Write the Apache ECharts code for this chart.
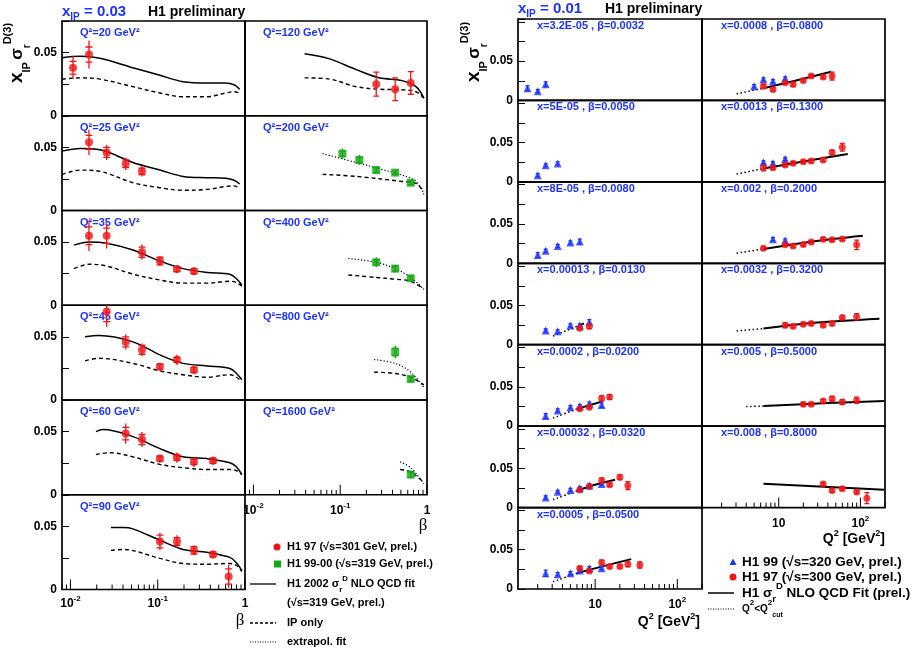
<!DOCTYPE html>
<html>
<head>
<meta charset="utf-8">
<title>H1 diffractive reduced cross section</title>
<script src="https://cdn.jsdelivr.net/npm/echarts@6.0.0/dist/echarts.min.js"></script>
<style>
html,body{margin:0;padding:0;background:#fff;}
#chart{width:913px;height:653px;}
</style>
</head>
<body>
<div id="chart"></div>
<script>
const FONT = '"Liberation Sans", Arial, Helvetica, sans-serif';
const SERIF = '"Liberation Serif", "Times New Roman", serif';
const C_BLUE = '#1e32ff';
const C_RED = '#f01414';
const C_GREEN = '#12a812';

// ---------- tick labels ----------
const yTickValues = [0, 0.05];
const yTickLabels = ['0', '0.05'];
const betaLabelExps = [-2, -1, 0];
const q2LabelExps = [1, 2];

// ---------- LEFT FIGURE: x_IP = 0.03, versus beta ----------
const leftQ2Col1 = ['20', '25', '35', '45', '60', '90'];
const leftQ2Col2 = ['120', '200', '400', '800', '1600'];

// H1 97 points: [beta, value, total error, stat error]
const h97_Q20 = [[0.0107,0.038,0.009,0.005],[0.0163,0.0484,0.011,0.006]];
const h97_Q25 = [[0.0163,0.054,0.010,0.0055],[0.026,0.046,0.006,0.004],[0.043,0.037,0.005,0.003],[0.066,0.031,0.004,0.0025]];
const h97_Q35 = [[0.0163,0.055,0.012,0.007],[0.026,0.055,0.010,0.006],[0.066,0.042,0.006,0.004],[0.106,0.035,0.004,0.003],[0.166,0.0286,0.003,0.002],[0.26,0.027,0.003,0.002]];
const h97_Q45 = [[0.026,0.070,0.012,0.008],[0.043,0.046,0.006,0.004],[0.066,0.0397,0.005,0.0035],[0.106,0.0263,0.003,0.002],[0.166,0.0318,0.004,0.002],[0.26,0.0238,0.003,0.002]];
const h97_Q60 = [[0.043,0.0484,0.008,0.005],[0.066,0.0437,0.006,0.004],[0.106,0.0286,0.003,0.002],[0.166,0.0294,0.004,0.002],[0.26,0.026,0.004,0.002],[0.43,0.027,0.003,0.002]];
const h97_Q90 = [[0.106,0.038,0.007,0.005],[0.166,0.038,0.005,0.003],[0.26,0.031,0.004,0.003],[0.43,0.0278,0.003,0.002],[0.65,0.0103,0.009,0.006]];
const h97_Q120 = [[0.26,0.025,0.0095,0.0095],[0.43,0.021,0.009,0.009],[0.65,0.026,0.009,0.009]];
// H1 99-00 points
const h99_Q200 = [[0.106,0.045,0.004,0.002],[0.166,0.040,0.004,0.002],[0.26,0.032,0.003,0.002],[0.43,0.030,0.002,0.0015],[0.65,0.022,0.002,0.0015]];
const h99_Q400 = [[0.26,0.034,0.004,0.002],[0.43,0.029,0.003,0.002],[0.65,0.0214,0.002,0.0015]];
const h99_Q800 = [[0.43,0.038,0.005,0.003],[0.65,0.0167,0.002,0.0015]];
const h99_Q1600 = [[0.65,0.016,0.003,0.002]];

// NLO QCD fit (solid), IP only (dashed), extrapolated fit (dotted): [beta, value]
const fit_Q20 = [[0.008,0.046],[0.0129,0.047],[0.0218,0.0455],[0.052,0.038],[0.106,0.032],[0.195,0.027],[0.366,0.026],[0.6,0.026],[0.75,0.0245],[0.87,0.021]];
const ip_Q20  = [[0.008,0.029],[0.0129,0.030],[0.0218,0.029],[0.052,0.023],[0.106,0.018],[0.195,0.015],[0.366,0.015],[0.6,0.018],[0.75,0.019],[0.87,0.018]];
const fit_Q25 = [[0.008,0.047],[0.0129,0.049],[0.0218,0.048],[0.052,0.038],[0.106,0.032],[0.195,0.027],[0.366,0.026],[0.6,0.0255],[0.75,0.024],[0.87,0.021]];
const ip_Q25  = [[0.008,0.0286],[0.0129,0.032],[0.0218,0.031],[0.052,0.022],[0.106,0.018],[0.195,0.016],[0.366,0.0167],[0.6,0.019],[0.75,0.0195],[0.87,0.0175]];
const fit_Q35 = [[0.011,0.0476],[0.0165,0.050],[0.026,0.049],[0.052,0.0437],[0.106,0.035],[0.195,0.029],[0.366,0.026],[0.67,0.0246],[0.8,0.021],[0.92,0.016]];
const ip_Q35  = [[0.011,0.029],[0.0165,0.0325],[0.026,0.031],[0.052,0.0246],[0.106,0.020],[0.195,0.0175],[0.366,0.0175],[0.67,0.019],[0.8,0.018],[0.92,0.015]];
const fit_Q45 = [[0.0147,0.050],[0.0213,0.051],[0.052,0.046],[0.106,0.0357],[0.195,0.029],[0.366,0.027],[0.67,0.025],[0.8,0.021],[0.92,0.016]];
const ip_Q45  = [[0.0147,0.031],[0.0213,0.033],[0.052,0.029],[0.106,0.023],[0.195,0.020],[0.366,0.018],[0.67,0.020],[0.8,0.018],[0.92,0.0143]];
const fit_Q60 = [[0.0196,0.050],[0.0236,0.0516],[0.052,0.046],[0.106,0.0365],[0.195,0.030],[0.366,0.0286],[0.67,0.0254],[0.8,0.022],[0.92,0.016]];
const ip_Q60  = [[0.0196,0.0318],[0.0284,0.0333],[0.052,0.030],[0.106,0.024],[0.195,0.0214],[0.366,0.020],[0.67,0.020],[0.8,0.019],[0.92,0.016]];
const fit_Q90 = [[0.0291,0.049],[0.040,0.049],[0.052,0.048],[0.106,0.039],[0.195,0.0317],[0.366,0.0294],[0.67,0.0254],[0.8,0.021],[0.92,0.015]];
const ip_Q90  = [[0.0291,0.031],[0.040,0.0317],[0.106,0.0246],[0.195,0.0206],[0.366,0.020],[0.67,0.0206],[0.8,0.019],[0.92,0.0143]];
const fit_Q120 = [[0.0389,0.049],[0.0754,0.045],[0.153,0.0365],[0.281,0.030],[0.516,0.0278],[0.746,0.023],[0.92,0.014]];
const ip_Q120  = [[0.0389,0.030],[0.0754,0.029],[0.153,0.023],[0.281,0.021],[0.516,0.0206],[0.746,0.019],[0.92,0.014]];
const ext_Q200 = [[0.0625,0.045],[0.153,0.038],[0.281,0.033],[0.516,0.028],[0.746,0.023],[0.92,0.0127]];
const ip_Q200  = [[0.0625,0.0286],[0.153,0.027],[0.516,0.023],[0.746,0.0214],[0.92,0.015]];
const ext_Q400 = [[0.124,0.037],[0.26,0.034],[0.43,0.029],[0.65,0.022],[0.92,0.0127]];
const ip_Q400  = [[0.124,0.024],[0.26,0.022],[0.43,0.0206],[0.65,0.019],[0.92,0.0127]];
const ext_Q800 = [[0.246,0.032],[0.43,0.029],[0.65,0.022],[0.92,0.010]];
const ip_Q800  = [[0.246,0.022],[0.43,0.021],[0.65,0.018],[0.92,0.012]];
const ext_Q1600 = [[0.49,0.026],[0.65,0.0214],[0.92,0.0087]];
const ip_Q1600  = [[0.49,0.020],[0.65,0.018],[0.92,0.0095]];

// ---------- RIGHT FIGURE: x_IP = 0.01, versus Q^2 ----------
const rightX = ['3.2E-05','5E-05','8E-05','0.00013','0.0002','0.00032','0.0005','0.0008','0.0013','0.002','0.0032','0.005','0.008'];
const rightBeta = ['0.0032','0.0050','0.0080','0.0130','0.0200','0.0320','0.0500','0.0800','0.1300','0.2000','0.3200','0.5000','0.8000'];

// H1 99 triangles / H1 97 circles: [Q2, value, error]
const t_b0032 = [[1.5,0.0156,0.003],[2,0.0118,0.002],[2.5,0.0207,0.003]];
const t_b0050 = [[2,0.0085,0.002],[2.5,0.021,0.002],[3.5,0.0234,0.002]];
const t_b0080 = [[2,0.0106,0.003],[2.5,0.016,0.002],[3.5,0.022,0.002],[5,0.0264,0.002],[6.5,0.0277,0.003]];
const t_b0130 = [[2.5,0.018,0.002],[3.5,0.017,0.002],[5,0.0245,0.002],[6.5,0.0245,0.002],[8.5,0.029,0.003]];
const c_b0130 = [[6.5,0.021,0.002],[8.5,0.0236,0.003]];
const t_b0200 = [[2.5,0.0128,0.003],[3.5,0.020,0.002],[5,0.024,0.002],[6.5,0.0255,0.002],[8.5,0.0285,0.002],[12,0.027,0.003]];
const c_b0200 = [[6.5,0.022,0.002],[8.5,0.024,0.002],[12,0.0356,0.003],[15,0.037,0.003]];
const t_b0320 = [[2.5,0.0128,0.002],[3.5,0.020,0.002],[5,0.0225,0.002],[6.5,0.0247,0.002],[8.5,0.028,0.002],[12,0.030,0.002]];
const c_b0320 = [[6.5,0.0225,0.002],[8.5,0.0267,0.002],[12,0.0343,0.003],[15,0.029,0.002],[20,0.0385,0.003],[25,0.028,0.005]];
const t_b0500 = [[2.5,0.020,0.004],[3.5,0.0188,0.002],[5,0.020,0.002],[6.5,0.0235,0.002],[8.5,0.0265,0.002],[12,0.0265,0.002]];
const c_b0500 = [[6.5,0.0265,0.002],[8.5,0.023,0.002],[12,0.0337,0.003],[15,0.0286,0.002],[20,0.0286,0.002],[25,0.0315,0.003],[35,0.0306,0.004]];
const t_b0800 = [[5,0.018,0.002],[6.5,0.0267,0.002],[8.5,0.0245,0.002],[12,0.028,0.002]];
const c_b0800 = [[6.5,0.018,0.002],[8.5,0.014,0.002],[12,0.0225,0.002],[15,0.0204,0.002],[20,0.0255,0.002],[25,0.031,0.002],[35,0.0297,0.002],[45,0.031,0.005]];
const t_b1300 = [[6.5,0.0248,0.002],[8.5,0.0236,0.002],[12,0.029,0.002]];
const c_b1300 = [[6.5,0.018,0.004],[8.5,0.018,0.002],[12,0.0214,0.002],[15,0.0236,0.002],[20,0.0256,0.002],[25,0.0265,0.002],[35,0.0278,0.002],[45,0.0372,0.003],[60,0.044,0.005]];
const t_b2000 = [[8.5,0.0307,0.002],[12,0.029,0.002]];
const c_b2000 = [[6.5,0.019,0.002],[12,0.0235,0.002],[15,0.022,0.002],[20,0.024,0.002],[25,0.027,0.002],[35,0.0307,0.002],[45,0.030,0.002],[60,0.031,0.002],[90,0.0235,0.006]];
const c_b3200 = [[12,0.0248,0.003],[15,0.0235,0.002],[20,0.026,0.002],[25,0.027,0.002],[35,0.0248,0.002],[45,0.027,0.002],[60,0.0347,0.002],[90,0.0355,0.004]];
const c_b5000 = [[20,0.0278,0.002],[25,0.0278,0.002],[35,0.032,0.002],[45,0.035,0.003],[60,0.0307,0.003],[90,0.033,0.004]];
const c_b8000 = [[35,0.030,0.002],[45,0.0218,0.002],[60,0.024,0.002],[90,0.0197,0.002],[120,0.012,0.007]];

// fit lines: solid (Q2 > Q2cut) and dotted (Q2 < Q2cut): [Q2, value]
const fs_b0130 = [[6.2,0.024],[7.3,0.027]];
const fd_b0130 = [[3.07,0.011],[6.2,0.024]];
const fs_b0200 = [[6.0,0.022],[12.2,0.0314]];
const fd_b0200 = [[3.07,0.0102],[6.0,0.022]];
const fs_b0320 = [[6.0,0.0214],[10,0.029],[17.5,0.0355]];
const fd_b0320 = [[3.07,0.0099],[6.0,0.0214]];
const fs_b0500 = [[6.0,0.020],[12,0.0285],[27.5,0.038]];
const fd_b0500 = [[3.07,0.0094],[6.0,0.020]];
const fs_b0800 = [[6.5,0.0154],[15,0.0245],[44,0.0365]];
const fd_b0800 = [[3.05,0.0085],[6.5,0.0154]];
const fs_b1300 = [[6.5,0.017],[20,0.026],[70,0.0355]];
const fd_b1300 = [[3.05,0.0099],[6.5,0.017]];
const fs_b2000 = [[6.5,0.0183],[25,0.0275],[107,0.035]];
const fd_b2000 = [[3.05,0.0128],[6.5,0.0183]];
const fs_b3200 = [[6.5,0.0205],[25,0.0275],[171,0.033]];
const fd_b3200 = [[3.05,0.0175],[6.5,0.0205]];
const fs_b5000 = [[6.5,0.0255],[40,0.0295],[196,0.032]];
const fd_b5000 = [[4.0,0.025],[6.5,0.0255]];
const fs_b8000 = [[6.5,0.0304],[196,0.0227]];

// ---------- panel definitions ----------
const panels = [
  {fig:'L',col:0,row:0,label:leftQ2Col1[0],fit:fit_Q20,ip:ip_Q20,red:h97_Q20},
  {fig:'L',col:0,row:1,label:leftQ2Col1[1],fit:fit_Q25,ip:ip_Q25,red:h97_Q25},
  {fig:'L',col:0,row:2,label:leftQ2Col1[2],fit:fit_Q35,ip:ip_Q35,red:h97_Q35},
  {fig:'L',col:0,row:3,label:leftQ2Col1[3],fit:fit_Q45,ip:ip_Q45,red:h97_Q45},
  {fig:'L',col:0,row:4,label:leftQ2Col1[4],fit:fit_Q60,ip:ip_Q60,red:h97_Q60},
  {fig:'L',col:0,row:5,label:leftQ2Col1[5],fit:fit_Q90,ip:ip_Q90,red:h97_Q90,bottom:true},
  {fig:'L',col:1,row:0,label:leftQ2Col2[0],fit:fit_Q120,ip:ip_Q120,red:h97_Q120,caps:true},
  {fig:'L',col:1,row:1,label:leftQ2Col2[1],ext:ext_Q200,ip:ip_Q200,green:h99_Q200},
  {fig:'L',col:1,row:2,label:leftQ2Col2[2],ext:ext_Q400,ip:ip_Q400,green:h99_Q400},
  {fig:'L',col:1,row:3,label:leftQ2Col2[3],ext:ext_Q800,ip:ip_Q800,green:h99_Q800},
  {fig:'L',col:1,row:4,label:leftQ2Col2[4],ext:ext_Q1600,ip:ip_Q1600,green:h99_Q1600,bottom:true},
  {fig:'R',col:0,row:0,k:0,tri:t_b0032},
  {fig:'R',col:0,row:1,k:1,tri:t_b0050},
  {fig:'R',col:0,row:2,k:2,tri:t_b0080},
  {fig:'R',col:0,row:3,k:3,tri:t_b0130,circ:c_b0130,fs:fs_b0130,fd:fd_b0130},
  {fig:'R',col:0,row:4,k:4,tri:t_b0200,circ:c_b0200,fs:fs_b0200,fd:fd_b0200},
  {fig:'R',col:0,row:5,k:5,tri:t_b0320,circ:c_b0320,fs:fs_b0320,fd:fd_b0320},
  {fig:'R',col:0,row:6,k:6,tri:t_b0500,circ:c_b0500,fs:fs_b0500,fd:fd_b0500,bottom:true},
  {fig:'R',col:1,row:0,k:7,tri:t_b0800,circ:c_b0800,fs:fs_b0800,fd:fd_b0800},
  {fig:'R',col:1,row:1,k:8,tri:t_b1300,circ:c_b1300,fs:fs_b1300,fd:fd_b1300},
  {fig:'R',col:1,row:2,k:9,tri:t_b2000,circ:c_b2000,fs:fs_b2000,fd:fd_b2000},
  {fig:'R',col:1,row:3,k:10,circ:c_b3200,fs:fs_b3200,fd:fd_b3200},
  {fig:'R',col:1,row:4,k:11,circ:c_b5000,fs:fs_b5000,fd:fd_b5000},
  {fig:'R',col:1,row:5,k:12,circ:c_b8000,fs:fs_b8000,bottom:true}
];

const GEOM = {
  L: {top:21, h:94.75, lefts:[62,245], widths:[183,182], xmin:0.008, xmax:1, ymax:0.075, exps:betaLabelExps, decades:[-3,-2,-1,0]},
  R: {top:19, h:81.43, lefts:[518,702], widths:[184,183], xmin:1.15, xmax:200, ymax:0.1036, exps:q2LabelExps, decades:[0,1,2]}
};

const supRich = {
  b: {fontFamily:FONT, fontSize:12, fontWeight:'bold', color:'#000', lineHeight:18},
  s: {fontFamily:FONT, fontSize:8, fontWeight:'bold', color:'#000', verticalAlign:'top'}
};

function xLabelFormatter(exps) {
  return function (v) {
    const e = Math.log10(v);
    const re = Math.round(e);
    if (Math.abs(e - re) > 1e-6 || exps.indexOf(re) < 0) return '';
    if (re === 0) return '{b|1}';
    if (re === 1) return '{b|10}';
    return '{b|10}{s|' + re + '}';
  };
}
function yLabelFormatter(v) {
  for (let i = 0; i < yTickValues.length; i++) {
    if (Math.abs(v - yTickValues[i]) < 1e-9) return yTickLabels[i];
  }
  return '';
}

function errRender(color, capHalf) {
  return function (params, api) {
    const x = api.value(0), y = api.value(1), et = api.value(2), es = api.value(3);
    const t = api.coord([x, y + et]), b = api.coord([x, y - et]);
    const s1 = api.coord([x, y + es]), s2 = api.coord([x, y - es]);
    const st = {stroke: color, lineWidth: 1.3, fill: null};
    return {type:'group', children:[
      {type:'line', shape:{x1:t[0], y1:t[1], x2:b[0], y2:b[1]}, style:st},
      {type:'line', shape:{x1:s1[0]-capHalf, y1:s1[1], x2:s1[0]+capHalf, y2:s1[1]}, style:st},
      {type:'line', shape:{x1:s2[0]-capHalf, y1:s2[1], x2:s2[0]+capHalf, y2:s2[1]}, style:st}
    ]};
  };
}
function tickRender(params, api) {
  const v = api.value(0), major = api.value(2);
  const p = api.coord([v, 0]);
  const len = major ? 10 : 5;
  return {type:'line', shape:{x1:p[0], y1:p[1], x2:p[0], y2:p[1]-len}, style:{stroke:'#000', lineWidth:1}};
}

const option = {
  animation: false,
  backgroundColor: '#fff',
  textStyle: {fontFamily: FONT},
  grid: [], xAxis: [], yAxis: [], series: [], graphic: []
};

panels.forEach(function (p, i) {
  const g = GEOM[p.fig];
  const gx = g.lefts[p.col], gw = g.widths[p.col];
  const gy = g.top + p.row * g.h;
  option.grid.push({left:gx, top:gy, width:gw, height:g.h, show:true, borderColor:'#000', borderWidth:1.7,
    backgroundColor:'rgba(0,0,0,0)', containLabel:false, outerBoundsMode:'none'});
  option.xAxis.push({type:'log', logBase:10, gridIndex:i, min:g.xmin, max:g.xmax,
    axisLine:{show:false}, axisTick:{show:false}, splitLine:{show:false}, minorTick:{show:false},
    axisLabel:{show:!!p.bottom, formatter:xLabelFormatter(g.exps), rich:supRich, margin:(p.fig==='L' && p.row===5) ? 5 : 7, interval:0}
  });
  option.yAxis.push({type:'value', gridIndex:i, min:0, max:g.ymax, interval:0.025,
    axisLine:{show:false}, splitLine:{show:false},
    axisTick:{show:p.col===0, inside:true, length:7, lineStyle:{color:'#000', width:1}},
    axisLabel:{show:p.col===0, formatter:yLabelFormatter, fontFamily:FONT, fontWeight:'bold', fontSize:12, color:'#000', margin:5}
  });
  const ax = {xAxisIndex:i, yAxisIndex:i};
  function addLine(data, type, width) {
    option.series.push(Object.assign({type:'line', data:data, showSymbol:false, symbol:'none', smooth:0.35, silent:true, z:2,
      lineStyle:{color:'#000', width:width || 1.5, type:type}}, ax));
  }
  function addPoints(data4, color, symbol, size, capHalf) {
    option.series.push(Object.assign({type:'custom', data:data4, renderItem:errRender(color, capHalf), encode:{x:0, y:1}, clip:true, silent:true, z:3}, ax));
    option.series.push(Object.assign({type:'scatter', data:data4.map(function(d){return [d[0], d[1]];}), symbol:symbol, symbolSize:size,
      itemStyle:{color:color}, silent:true, z:4}, ax));
  }
  if (p.ip) addLine(p.ip, [4, 3], 1.4);
  if (p.fit) addLine(p.fit, 'solid', 1.5);
  if (p.ext) addLine(p.ext, [1.2, 2], 1.2);
  if (p.fd) addLine(p.fd, [1.5, 2.5], 1.5);
  if (p.fs) addLine(p.fs, 'solid', 2);
  if (p.red) addPoints(p.red, C_RED, 'circle', 8, p.caps ? 3 : 3.5);
  if (p.green) addPoints(p.green, C_GREEN, 'rect', 8, 3);
  if (p.tri) addPoints(p.tri.map(function(d){return [d[0], d[1], d[2], d[2]];}), C_BLUE, 'triangle', 8, 2);
  if (p.circ) addPoints(p.circ.map(function(d){return [d[0], d[1], d[2], d[2]];}), C_RED, 'circle', 7, 2.5);
  if (p.bottom) {
    const ticks = [];
    g.decades.forEach(function (k) {
      for (let m = 1; m <= 9; m++) {
        const v = m * Math.pow(10, k);
        if (v >= g.xmin * 0.9999 && v <= g.xmax * 1.0001) ticks.push([v, 0, m === 1 ? 1 : 0]);
      }
    });
    option.series.push(Object.assign({type:'custom', data:ticks, renderItem:tickRender, encode:{x:0, y:1}, clip:false, silent:true, z:5}, ax));
  }
  // panel label
  let txt;
  if (p.fig === 'L') {
    txt = {type:'text', x:gx + 18, y:gy + 12, style:{text:'Q²=' + p.label + ' GeV²', fill:C_BLUE, font:'bold 11px ' + FONT, verticalAlign:'middle'}};
  } else {
    txt = {type:'text', x:gx + 19, y:gy + 7, style:{text:'x=' + rightX[p.k] + ' , β=' + rightBeta[p.k], fill:C_BLUE, font:'bold 11px ' + FONT, verticalAlign:'middle'}};
  }
  option.graphic.push(txt);
});

// ---------- titles, axis titles, legends ----------
function rt(fs, extra) { return Object.assign({fontFamily:FONT, fontWeight:'bold', fontSize:fs, fill:'#000', color:'#000'}, extra || {}); }
const G = option.graphic;
function headerTitle(x, y, val) {
  G.push({type:'text', x:x, y:y, style:{text:'{a|x}{b|IP}{a| = ' + val + '}', verticalAlign:'middle',
    rich:{a:rt(15, {fill:C_BLUE, color:C_BLUE, lineHeight:20}), b:rt(10, {fill:C_BLUE, color:C_BLUE, verticalAlign:'bottom'})}}});
}
headerTitle(62, 12, '0.03');
headerTitle(518, 9, '0.01');
G.push({type:'text', x:148, y:12, style:{text:'H1 preliminary', font:'bold 14px ' + FONT, fill:'#000', verticalAlign:'middle'}});
G.push({type:'text', x:605, y:9, style:{text:'H1 preliminary', font:'bold 14px ' + FONT, fill:'#000', verticalAlign:'middle'}});

function yTitle(x, y) {
  G.push({type:'text', x:x, y:y, rotation:Math.PI / 2, style:{text:'{x|x}{sb|IP}{sp| }{g|σ}{sb2|r}{sup|D(3)}', align:'center', verticalAlign:'middle',
    rich:{x:rt(19, {lineHeight:30}), sb:rt(11, {verticalAlign:'bottom'}), sp:rt(8), g:rt(17), sb2:rt(10, {verticalAlign:'bottom'}), sup:rt(11, {verticalAlign:'top'})}}});
}
yTitle(17, 53);
yTitle(474, 52);

G.push({type:'text', x:240, y:621, style:{text:'β', font:'17px ' + SERIF, fill:'#000', align:'center', verticalAlign:'middle'}});
G.push({type:'text', x:423, y:526, style:{text:'β', font:'17px ' + SERIF, fill:'#000', align:'center', verticalAlign:'middle'}});

function q2Title(xr, y) {
  G.push({type:'text', x:xr, y:y, style:{text:'{a|Q}{s|2}{a| [GeV}{s|2}{a|]}', align:'right', verticalAlign:'middle',
    rich:{a:rt(14, {lineHeight:20}), s:rt(9, {verticalAlign:'top'})}}});
}
q2Title(700, 622);
q2Title(885, 539);

// left legend
const LL = [547, 564, 584, 603, 623, 642];
G.push({type:'circle', shape:{cx:277, cy:LL[0], r:3.5}, style:{fill:C_RED}});
G.push({type:'rect', shape:{x:274, y:LL[1] - 3.5, width:7, height:7}, style:{fill:C_GREEN}});
G.push({type:'line', shape:{x1:250, y1:LL[2], x2:276, y2:LL[2]}, style:{stroke:'#000', lineWidth:1.3}});
G.push({type:'line', shape:{x1:250, y1:LL[4], x2:276, y2:LL[4]}, style:{stroke:'#000', lineWidth:1.3, lineDash:[3, 2]}});
G.push({type:'line', shape:{x1:250, y1:LL[5], x2:276, y2:LL[5]}, style:{stroke:'#000', lineWidth:1, lineDash:[1, 1.5]}});
function legText(x, y, fs, text) {
  G.push({type:'text', x:x, y:y, style:{text:text, verticalAlign:'middle',
    rich:{n:rt(fs, {lineHeight:fs + 8}), sb:rt(fs * 0.7, {verticalAlign:'bottom'}), sp:rt(fs * 0.7, {verticalAlign:'top'})}}});
}
legText(287, LL[0], 11, '{n|H1 97 (√s=301 GeV, prel.)}');
legText(287, LL[1], 11, '{n|H1 99-00 (√s=319 GeV, prel.)}');
legText(287, LL[2], 11, '{n|H1 2002 σ}{sb|r}{sp|D}{n| NLO QCD fit}');
legText(287, LL[3], 11, '{n|(√s=319 GeV, prel.)}');
legText(287, LL[4], 11, '{n|IP only}');
legText(287, LL[5], 11, '{n|extrapol. fit}');

// right legend
const RL = [562, 577, 593, 609];
G.push({type:'polygon', shape:{points:[[733, RL[0] - 3.5], [736.5, RL[0] + 3], [729.5, RL[0] + 3]]}, style:{fill:C_BLUE}});
G.push({type:'circle', shape:{cx:733, cy:RL[1], r:3.5}, style:{fill:C_RED}});
G.push({type:'line', shape:{x1:708, y1:RL[2], x2:734, y2:RL[2]}, style:{stroke:'#000', lineWidth:1.5}});
G.push({type:'line', shape:{x1:708, y1:RL[3], x2:734, y2:RL[3]}, style:{stroke:'#000', lineWidth:1, lineDash:[1, 1.5]}});
legText(742, RL[0], 13.5, '{n|H1 99 (√s=320 GeV, prel.)}');
legText(742, RL[1], 13.5, '{n|H1 97 (√s=300 GeV, prel.)}');
legText(742, RL[2], 13.5, '{n|H1 σ}{sb|r}{sp|D}{n| NLO QCD Fit (prel.)}');
G.push({type:'text', x:742, y:RL[3], style:{text:'{n|Q}{sp|2}{n|<Q}{sp|2}{sb|cut}', verticalAlign:'middle',
  rich:{n:rt(10, {lineHeight:20}), sp:rt(8, {verticalAlign:'top'}), sb:rt(7, {verticalAlign:'bottom'})}}});

const chart = echarts.init(document.getElementById('chart'), null, {renderer:'canvas'});
chart.setOption(option);
</script>
</body>
</html>
